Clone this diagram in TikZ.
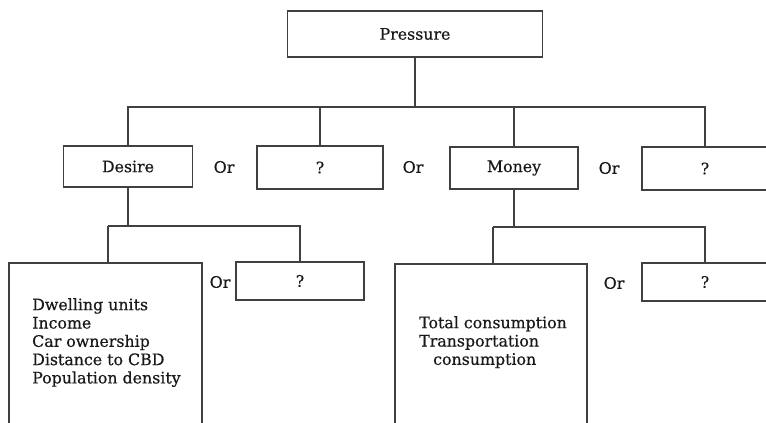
\documentclass[tikz,border=0pt]{standalone}
\usepackage{fontspec}
\setmainfont[FakeBold=0.5]{DejaVu Serif}
\begin{document}
\begin{tikzpicture}[x=1pt,y=-1pt,
  ln/.style={draw=black!75, line width=1.7pt},
  box/.style={ln, rectangle, inner sep=0pt, fill=none},
  lbl/.style={inner sep=0pt, text=black!90, font=\fontsize{15.8}{18.3}\selectfont},
  orlbl/.style={lbl}
]
\clip (0,0) rectangle (766,423);
\fill[white] (0,0) rectangle (766,423);
% level 1
\node[box, lbl, minimum width=255pt, minimum height=46pt] (P) at (415,34) {Pressure};
% level 2
\node[box, lbl, minimum width=129pt, minimum height=41pt] (D) at (128,166.5) {Desire};
\node[box, lbl, minimum width=126pt, minimum height=43pt] (Q1) at (320,167.5) {?};
\node[box, lbl, minimum width=128pt, minimum height=42pt] (M) at (514,168) {Money};
\node[box, lbl, minimum width=126pt, minimum height=43pt] (Q2) at (705,168.5) {?};
\node[orlbl] (or1) at (224,167) {Or};
\node[orlbl] (or2) at (413,167) {Or};
\node[orlbl] (or3) at (609,168) {Or};
% level 3
\node[box, minimum width=193pt, minimum height=180pt, anchor=north west] (L) at (8,262) {};
\node[box, lbl, minimum width=128pt, minimum height=38pt] (Q3) at (300,281) {?};
\node[box, minimum width=192pt, minimum height=180pt, anchor=north west] (R) at (394,263) {};
\node[box, lbl, minimum width=126pt, minimum height=38pt] (Q4) at (705,282) {?};
\node[orlbl] (or4) at (220,282) {Or};
\node[orlbl] (or5) at (614,283) {Or};
\node[lbl, align=left, anchor=north west] (Ltxt) at (32,298) {Dwelling units\\Income\\Car ownership\\Distance to CBD\\Population density};
\node[lbl, align=left, anchor=north west] (Rtxt) at (419,316) {Total consumption\\Transportation\\\hspace*{14pt}consumption};
% connectors
\coordinate (b1) at (415,107);
\coordinate (b2) at (128,226);
\coordinate (b3) at (514,227);
\draw[ln] (P.south) -- (b1);
\draw[ln] (D.north) |- (Q2.north |- b1) -- (Q2.north);
\draw[ln] (Q1.north) -- (Q1.north |- b1);
\draw[ln] (M.north) -- (M.north |- b1);
\draw[ln] (D.south) -- (b2);
\draw[ln] ([xshift=2.5pt]L.north |- b2) -| (Q3.north);
\draw[ln] ([xshift=2.5pt]L.north |- b2) -- ([xshift=2.5pt]L.north);
\draw[ln] (M.south) -- (b3);
\draw[ln] ([xshift=2pt]R.north |- b3) -| (Q4.north);
\draw[ln] ([xshift=2pt]R.north |- b3) -- ([xshift=2pt]R.north);
\end{tikzpicture}
\end{document}
